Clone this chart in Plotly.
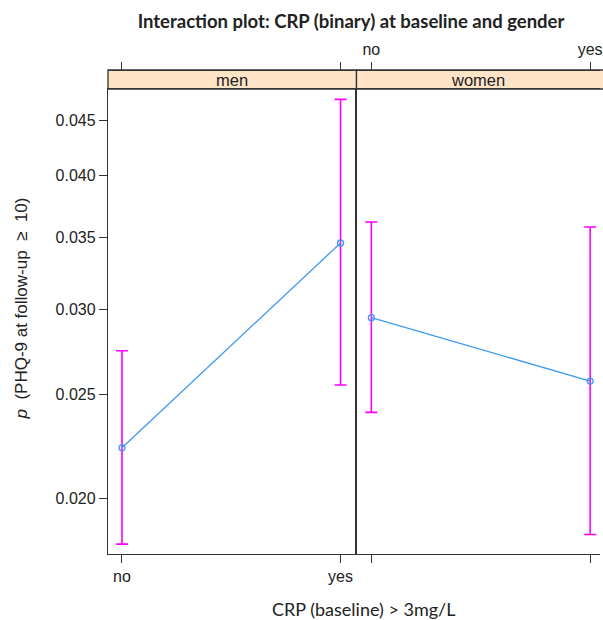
import plotly.graph_objects as go

# ---- data ----
crp_levels = ["no", "yes"]
genders = ["men", "women"]
fit_men = [0.02229, 0.03459]
lower_men = [0.01813, 0.02551]
upper_men = [0.02745, 0.04708]
fit_women = [0.02947, 0.02572]
lower_women = [0.02405, 0.01851]
upper_women = [0.03619, 0.03580]
y_ticks = [0.020, 0.025, 0.030, 0.035, 0.040, 0.045]
y_tick_labels = ["0.020", "0.025", "0.030", "0.035", "0.040", "0.045"]

x_idx = [0, 1]
LINE_BLUE = "#3d99f0"
MAGENTA = "#ff00ff"
AX = "#333333"
STRIP = "#ffe4c8"

fig = go.Figure()

panels = [
    ("x", "y", fit_men, lower_men, upper_men),
    ("x2", "y2", fit_women, lower_women, upper_women),
]
for xa, ya, fit, lo, up in panels:
    fig.add_trace(go.Scatter(
        x=x_idx, y=fit, xaxis=xa, yaxis=ya, mode="markers",
        marker=dict(size=1, color="rgba(0,0,0,0)"),
        error_y=dict(type="data", symmetric=False,
                     array=[u - f for u, f in zip(up, fit)],
                     arrayminus=[f - l for f, l in zip(fit, lo)],
                     color=MAGENTA, thickness=1.6, width=6),
        showlegend=False, hoverinfo="skip"))
    fig.add_trace(go.Scatter(
        x=x_idx, y=fit, xaxis=xa, yaxis=ya, mode="lines+markers",
        line=dict(color=LINE_BLUE, width=1.3),
        marker=dict(symbol="circle-open", size=6, color=LINE_BLUE,
                    line=dict(width=1.3, color=LINE_BLUE)),
        showlegend=False))

# invisible traces for top axes
fig.add_trace(go.Scatter(x=x_idx, y=fit_men, xaxis="x3", yaxis="y",
                         mode="markers", marker=dict(opacity=0),
                         showlegend=False, hoverinfo="skip"))
fig.add_trace(go.Scatter(x=x_idx, y=fit_women, xaxis="x4", yaxis="y2",
                         mode="markers", marker=dict(opacity=0),
                         showlegend=False, hoverinfo="skip"))

W, H = 603, 620
ml, mr, mt, mb = 108, 0, 70, 66
pw = W - ml - mr
ph = H - mt - mb
split = 250 / pw
ydom_top = 465 / ph

yrange = [-1.75083, -1.31754]
men_range = [-0.064, 1.073]
women_range = [-0.068, 1.045]

tickfont = dict(family="Liberation Sans, Arial, sans-serif", size=16, color="#222")

common_x = dict(tickmode="array", tickvals=x_idx, ticks="outside", ticklen=8,
                tickwidth=1.3, tickcolor=AX, showgrid=False, zeroline=False,
                showline=True, linecolor=AX, linewidth=1.3, tickfont=tickfont,
                ticklabeloverflow="allow")

fig.update_layout(
    width=W, height=H,
    margin=dict(l=ml, r=mr, t=mt, b=mb),
    paper_bgcolor="white", plot_bgcolor="white",
    title=dict(text="<b>Interaction plot: CRP (binary) at baseline and gender</b>",
               x=351 / W, xanchor="center", y=1 - 22 / H, yanchor="middle",
               font=dict(family="Lato, sans-serif", size=18.5, color="#222")),
    xaxis=dict(domain=[0, split], range=men_range, anchor="y",
               ticktext=crp_levels, mirror=True, **common_x),
    xaxis2=dict(domain=[split, 1], range=women_range, anchor="y2",
                ticktext=["", ""], mirror=True, **common_x),
    xaxis3=dict(overlaying="x", range=men_range, side="top", anchor="free",
                position=1, ticktext=["", ""], **common_x),
    xaxis4=dict(overlaying="x2", range=women_range, side="top", anchor="free",
                position=1, ticktext=crp_levels, **common_x),
    yaxis=dict(domain=[0, ydom_top], type="log", range=yrange, anchor="x",
               tickmode="array", tickvals=y_ticks, ticktext=y_tick_labels,
               ticks="outside", ticklen=8, tickwidth=1.3, tickcolor=AX,
               showgrid=False, zeroline=False, showline=True, mirror=True,
               linecolor=AX, linewidth=1.3, tickfont=tickfont),
    yaxis2=dict(domain=[0, ydom_top], type="log", range=yrange, anchor="x2",
                showticklabels=False, ticks="", showgrid=False, zeroline=False,
                showline=True, linecolor=AX, linewidth=1.3),
)

# strips
for (x0, x1) in [(0, split), (split, 1.03)]:
    fig.add_shape(type="rect", xref="paper", yref="paper",
                  x0=x0, x1=x1, y0=ydom_top, y1=1,
                  fillcolor=STRIP, line=dict(color=AX, width=1.3), layer="below")
for (x0, x1), label in zip([(0, split), (split, 1)], genders):
    fig.add_annotation(text=label, xref="paper", yref="paper",
                       x=(x0 + x1) / 2, y=(ydom_top + 1) / 2, showarrow=False,
                       xanchor="center", yanchor="middle",
                       font=dict(family="Liberation Sans, Arial, sans-serif",
                                 size=16.5, color="#222"))

fig.add_annotation(text="<i>p</i>\u00a0 (PHQ-9 at follow-up\u00a0 \u2265\u00a0 10)",
                   xref="paper", yref="paper",
                   x=(20 - ml) / pw, y=(554 - 309) / ph, textangle=-90,
                   showarrow=False, xanchor="center", yanchor="middle",
                   font=dict(family="Liberation Sans, Arial, sans-serif", size=17, color="#222"))

fig.add_annotation(text="CRP (baseline) &gt; 3mg/L", xref="paper", yref="paper",
                   x=(366 - ml) / pw, y=-(609 - 554) / ph, showarrow=False,
                   xanchor="center", yanchor="middle",
                   font=dict(family="Lato, sans-serif", size=18, color="#222"))

fig.write_html("out.html", config={"displayModeBar": False},
               post_script="document.body.style.margin='0';document.body.style.overflow='hidden';")
